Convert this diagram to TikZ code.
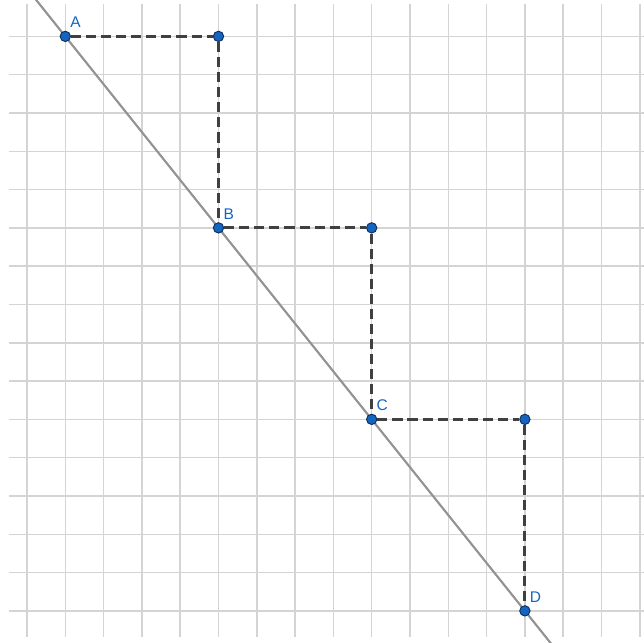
\documentclass[tikz,border=0pt]{standalone}
\usepackage{fontspec}
\setmainfont{Liberation Sans}
\usepackage{tikz}
\usetikzlibrary{calc, positioning, backgrounds}
\definecolor{ptblue}{HTML}{1565C0}
\definecolor{ptedge}{HTML}{0D2F5E}
\definecolor{stepgray}{HTML}{404040}

\begin{document}
\begin{tikzpicture}[
        gridline/.style = {draw=black!17, line width=1.1pt},
        mainline/.style = {draw=black!42, line width=1.6pt},
        stepline/.style = {draw=stepgray, line width=2.3pt, dash pattern=on 7.5pt off 3.7pt},
        point/.style = {circle, fill=ptblue, draw=ptedge, line width=0.7pt, minimum size=0.27cm, inner sep=0pt},
        lbl/.style = {inner sep=0pt, anchor=south west, text=ptblue, font=\fontsize{11.5}{13}\selectfont}
    ]

        % Frame
        \path[use as bounding box] (-0.705,-0.836) rectangle (16.11,15.95);
        \clip (-0.705,-0.836) rectangle (16.11,15.95);

        % Points on the line
        \node (A) [point] at (1,15) {};
        \node (B) [point] at (5,10) {};
        \node (C) [point] at (9,5) {};
        \node (D) [point] at (13,0) {};

        % Corner points
        \node (AB) [point] at (5,15) {};
        \node (BC) [point] at (9,10) {};
        \node (CD) [point] at (13,5) {};

        % Labels
        \node (labA) [lbl, above right=0.12cm and 0.02cm of A] {A};
        \node (labB) [lbl, above right=0.12cm and 0.02cm of B] {B};
        \node (labC) [lbl, above right=0.12cm and 0.02cm of C] {C};
        \node (labD) [lbl, above right=0.12cm and 0.02cm of D] {D};

        \begin{scope}[on background layer]
            \fill [white] (-0.705,-0.836) rectangle (16.11,15.95);

            % Grid
            \draw [gridline] (-0.47,-0.68) grid (16.11,15.85);

            % Line through the points
            \draw [mainline] ($(A)!-0.1!(D)$) -- ($(D)!-0.1!(A)$);

            % Steps
            \draw [stepline] (A) -- (AB) -- (B);
            \draw [stepline] (B) -- (BC) -- (C);
            \draw [stepline] (C) -- (CD) -- (D);
        \end{scope}

    \end{tikzpicture}
\end{document}
